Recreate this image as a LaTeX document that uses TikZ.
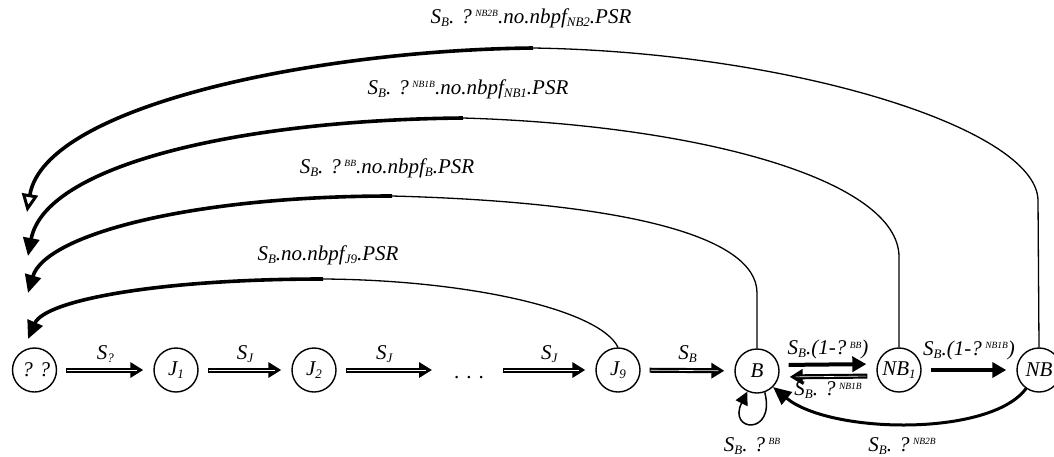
\documentclass[tikz,border=0pt]{standalone}
\usepackage{fontspec}
\setmainfont{Liberation Serif}
\usetikzlibrary{arrows.meta}
% small lowered / raised indices used in the rate labels
\newcommand\sbt[1]{\raisebox{-3pt}{\fontsize{13}{14}\selectfont #1}}
\newcommand\spt[1]{\,\raisebox{6.5pt}{\fontsize{9.5}{10}\selectfont #1}}

\begin{document}
\begin{tikzpicture}[x=1pt,y=-1pt,
  every node/.style={font=\itshape\fontsize{21}{24}\selectfont},
  state/.style={circle, draw, line width=1.4pt, minimum size=44pt, inner sep=0pt},
  % black shaft and head with a thin white core running into the head
  hollow/.style 2 args={line width=5pt, shorten <=#1, shorten >=#2,
    -{Triangle[length=13pt,width=15pt]},
    postaction={draw=white, line width=0.6pt, -, shorten <={#1+1pt}, shorten >={#2+6pt}}},
  solidarr/.style={line width=4pt, shorten <=9pt, shorten >=10pt,
    -{Triangle[length=14pt,width=15pt]}},
  thinline/.style={line width=1.3pt},
  thickline/.style={line width=3.6pt, -{Triangle[length=18pt,width=16pt]}},
  loopline/.style={line width=1.5pt, -{Triangle[length=13pt,width=13pt]}},
  lbl/.style={anchor=base, inner sep=0pt},
]
\useasboundingbox (0,0) rectangle (1054,456);
\clip (0,0) rectangle (1054,456);

% states of the chain
\node[state] (qq)  at (34.5,370) {\,? ?};
\node[state] (J1)  at (176,370) {J\sbt{1}};
\node[state] (J2)  at (314,370) {J\sbt{2}};
\node[state] (J9)  at (618,370) {J\sbt{9}};
\node[state] (B)   at (757,371) {B};
\node[state] (NB1) at (899,370) {NB\sbt{1}};
\node[state] (NB)  at (1039,370) {NB};
\node (dots) at (469,378) {\upshape .\,\,.\,\,.};
\coordinate (d1) at (432,370);
\coordinate (d2) at (503,370);

% forward transitions
\draw[hollow={9pt}{10pt}] (qq) -- node[lbl, midway, yshift=11pt] {S\sbt{?}} (J1);
\draw[hollow={9pt}{10pt}] (J1) -- node[lbl, midway, yshift=11pt] {S\sbt{J}} (J2);
\draw[hollow={9pt}{0pt}] (J2) -- node[lbl, midway, yshift=11pt] {S\sbt{J}} (d1);
\draw[hollow={0pt}{10pt}] (d2) -- node[lbl, midway, yshift=11pt] {S\sbt{J}} (J9);
\draw[hollow={9pt}{10pt}] (J9) -- node[lbl, midway, yshift=11pt] {S\sbt{B}} (B);

% B <-> NB1 -> NB
\draw[solidarr] ([yshift=6pt]B.east) -- node[lbl, midway, yshift=10pt] {S\sbt{B}.(1-?\spt{BB})} ([yshift=6pt]NB1.west);
\draw[hollow={9pt}{10pt}] ([yshift=-6pt]NB1.west) -- node[lbl, midway, yshift=-19pt] {S\sbt{B}. ?\spt{NB1B}} ([yshift=-6pt]B.east);
\draw[solidarr] (NB1.east) -- node[lbl, midway, yshift=15pt] {S\sbt{B}.(1-?\spt{NB1B})} (NB.west);

% returns into B
\draw[loopline] (B.-70) .. controls (776,436) and (727,432) .. (B.-115);
\node[lbl] (lblBB) at (752,451) {S\sbt{B}. ?\spt{BB}};
\draw[thickline, line width=3pt] (NB.235) .. controls (990,437) and (830,434) .. (B.-45);
\node[lbl] (lblNB2B) at (902,451) {S\sbt{B}. ?\spt{NB2B}};

% long returns to the first state
\coordinate (t2) at (27,212);
\coordinate (t1) at (28,256);
\coordinate (t0) at (28,293);
\coordinate (tj) at (28,339);
\coordinate (m2) at (533,48);
\coordinate (m1) at (463,118);
\coordinate (m0) at (392,196);
\coordinate (mj) at (323,279);

\draw[thinline] (NB.north) -- (1038,200) .. controls (1036,128) and (790,52) .. (m2);
\draw[thickline, -{Triangle[open,length=18pt,width=16pt,line width=3pt,fill=white]}] (m2) .. controls (320,50) and (45,105) .. (t2);
\draw[thinline] (NB1.north) -- (899,257) .. controls (899,180) and (700,125) .. (m1);
\draw[thickline] (m1) .. controls (240,120) and (45,165) .. (t1);
\draw[thinline] (B.north) -- (757,293) .. controls (757,235) and (620,202) .. (m0);
\draw[thickline] (m0) .. controls (190,196) and (45,235) .. (t0);
\draw[thinline] (J9.north) .. controls (600,310) and (470,280) .. (mj);
\draw[thickline] (mj) .. controls (160,279) and (45,300) .. (tj);

\node[lbl] (lblNB2) at (531,23) {S\sbt{B}. ?\spt{NB2B}.no.nbpf\sbt{NB2}.PSR};
\node[lbl] (lblNB1) at (468,94) {S\sbt{B}. ?\spt{NB1B}.no.nbpf\sbt{NB1}.PSR};
\node[lbl] (lblB)   at (387,173) {S\sbt{B}. ?\spt{BB}.no.nbpf\sbt{B}.PSR};
\node[lbl] (lblJ9)  at (328,260) {S\sbt{B}.no.nbpf\sbt{J9}.PSR};
\end{tikzpicture}
\end{document}
